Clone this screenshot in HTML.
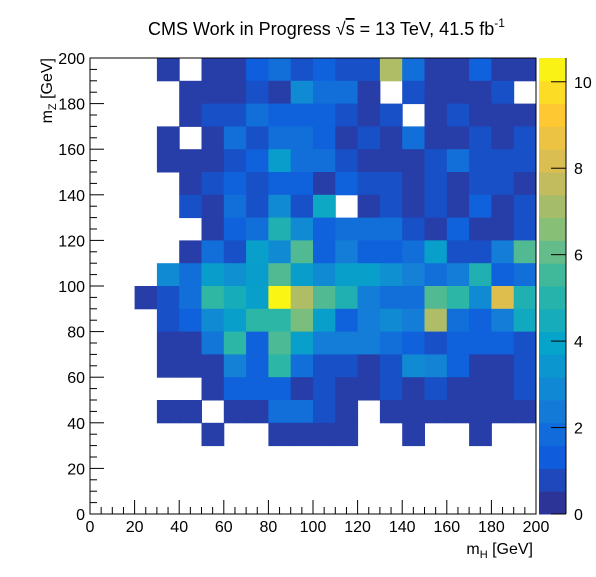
<!DOCTYPE html>
<html><head><meta charset="utf-8"><style>
body{margin:0;background:#fff;width:596px;height:572px;overflow:hidden}
svg text{font-family:"Liberation Sans",sans-serif;fill:#000}
</style></head><body>
<svg id="chart" width="596" height="572" xmlns="http://www.w3.org/2000/svg">
<text x="148" y="35" font-size="18">CMS Work in Progress <tspan font-size="18">√</tspan><tspan text-decoration="overline">s</tspan> = 13 TeV, 41.5 fb<tspan font-size="12" dy="-8">-1</tspan></text>
<g id="cells"></g><g id="cbar"></g><g id="axes"></g>
<text x="533" y="554" font-size="16" text-anchor="end">m<tspan font-size="11" dy="4">H</tspan><tspan dy="-4"> [GeV]</tspan></text>
<text transform="translate(52,58) rotate(-90)" font-size="16" text-anchor="end">m<tspan font-size="11" dy="4">Z</tspan><tspan dy="-4"> [GeV]</tspan></text>
</svg>
<script>
// rows from top (190-200 GeV) down to 0-10; null = empty
const zValuesRows = [
[null,null,null,0.5,null,0.5,0.5,1.4,2.0,1.05, 1.5,1.0,1.0,7.3,2.0,0.5,0.5,1.5,0.5,0.5],
[null,null,null,null,0.5,0.5,0.5,1.0,0.5,3.0, 2.0,2.0,0.5,null,1.0,0.5,0.5,0.5,1.0,null],
[null,null,null,null,0.5,1.0,1.0,2.0,1.5,1.5, 1.5,1.0,0.5,1.0,null,0.5,1.0,0.5,0.5,0.5],
[null,null,null,0.5,null,0.5,2.0,1.0,2.0,2.0, 1.5,0.5,1.0,0.5,2.0,0.5,0.5,1.0,0.5,1.0],
[null,null,null,0.5,0.5,0.5,1.0,1.5,3.7,2.0, 2.0,1.0,0.5,0.5,0.5,1.0,2.0,1.0,1.0,1.0],
[null,null,null,null,0.5,1.0,1.5,1.0,1.5,1.5, 0.5,1.5,1.0,1.0,0.5,1.0,0.5,1.0,1.0,0.5],
[null,null,null,null,1.0,0.5,2.0,1.0,3.0,1.0, 4.2,null,0.5,1.0,0.5,1.0,0.5,1.5,0.5,1.0],
[null,null,null,null,null,0.5,1.5,2.0,4.8,3.0, 1.5,2.0,2.0,2.0,1.0,0.5,1.5,0.5,0.5,1.0],
[null,null,null,null,0.5,2.0,1.0,3.8,3.0,5.8, 1.5,2.5,1.5,1.5,2.0,3.8,1.0,1.0,2.5,5.8],
[null,null,null,3.0,2.0,3.7,3.2,3.7,5.8,3.7, 3.0,3.8,3.8,3.2,2.6,2.0,2.5,4.8,1.5,2.0],
[null,null,0.5,1.0,2.0,5.3,4.5,3.8,10.4,7.3, 5.8,4.8,2.5,2.0,2.0,5.8,5.2,3.0,8.3,4.8],
[null,null,null,1.0,1.5,3.0,3.8,5.2,5.2,6.4, 3.8,1.5,2.5,3.0,2.5,7.3,2.0,1.5,2.5,4.3],
[null,null,null,0.5,0.5,2.2,5.2,1.5,5.7,3.8, 2.5,2.5,2.5,2.0,1.5,1.0,1.5,1.5,1.5,1.0],
[null,null,null,0.5,0.5,0.5,2.6,1.5,5.2,2.0, 1.0,1.0,0.5,1.0,3.0,2.7,1.5,0.5,0.5,1.0],
[null,null,null,null,null,0.5,1.5,1.5,1.5,0.5, 1.0,0.5,0.5,1.0,0.5,1.0,0.5,0.5,0.5,1.0],
[null,null,null,0.5,0.5,null,0.5,0.5,2.0,2.0, 1.0,0.5,null,0.5,0.5,0.5,0.5,0.5,0.5,0.5],
[null,null,null,null,null,0.5,null,null,0.5,0.5, 0.5,0.5,null,null,0.5,null,null,0.5,null,null],
[null,null,null,null,null,null,null,null,null,null, null,null,null,null,null,null,null,null,null,null],
[null,null,null,null,null,null,null,null,null,null, null,null,null,null,null,null,null,null,null,null],
[null,null,null,null,null,null,null,null,null,null, null,null,null,null,null,null,null,null,null,null]
];
const xTicks = [0,20,40,60,80,100,120,140,160,180,200];
const yTicks = [0,20,40,60,80,100,120,140,160,180,200];
const zTicks = [0,2,4,6,8,10];
const zMax = 10.55;

const NS="http://www.w3.org/2000/svg";
const L=90,R=536,T=58,B=514;
const xs=v=>L+(v/200)*(R-L), ys=v=>B-(v/200)*(B-T);
const CB0=539,CB1=566, zs=v=>B-(v/zMax)*(B-T);
const stops=[[53,42,135],[15,92,221],[20,129,214],[6,164,202],[46,183,164],[135,191,119],[209,187,89],[254,200,50],[249,251,14]];
function col(v){let t=Math.max(0,Math.min(1,v/zMax))*8;let i=Math.min(7,Math.floor(t)),f=t-i;
 const a=stops[i],b=stops[i+1];return `rgb(${a.map((c,k)=>Math.round(c+(b[k]-c)*f)).join(',')})`;}
function mk(tag,attrs,parent){const e=document.createElementNS(NS,tag);for(const k in attrs)e.setAttribute(k,attrs[k]);parent.appendChild(e);return e;}
const cells=document.getElementById('cells');
zValuesRows.forEach((row,ri)=>{const y0=190-ri*10;row.forEach((v,ci)=>{if(v===null)return;const x0=ci*10;
 const r=mk('rect',{x:xs(x0),y:ys(y0+10),width:xs(x0+10)-xs(x0)+0.5,height:ys(y0)-ys(y0+10)+0.5,fill:col(v)},cells);
 
 });});
const cb=document.getElementById('cbar');
const nb=20;for(let i=0;i<nb;i++){const v0=zMax*i/nb,v1=zMax*(i+1)/nb;
 const r=mk('rect',{x:CB0,y:zs(v1),width:CB1-CB0,height:zs(v0)-zs(v1)+0.5,fill:col((v0+v1)/2)},cb);
 
 }
mk('line',{x1:CB1,y1:T,x2:CB1,y2:B,stroke:'#000','stroke-width':1},cb);
zTicks.forEach(z=>{mk('line',{x1:CB1-15,x2:CB1,y1:zs(z),y2:zs(z),stroke:'#000'},cb);
 const t=mk('text',{x:CB1+8,y:zs(z)+6,'font-size':16},cb);t.textContent=z;
 
 });
const ax=document.getElementById('axes');
mk('rect',{x:L,y:T,width:R-L,height:B-T,fill:'none',stroke:'#000','stroke-width':1},ax);
for(let v=0;v<=200;v+=5){const maj=v%20===0;
 mk('line',{x1:xs(v),x2:xs(v),y1:B,y2:B-(maj?14:7),stroke:'#000'},ax);
 mk('line',{x1:L,x2:L+(maj?14:7),y1:ys(v),y2:ys(v),stroke:'#000'},ax);}
xTicks.forEach(v=>{const t=mk('text',{x:xs(v),y:B+18,'font-size':16,'text-anchor':'middle'},ax);t.textContent=v;
 
 });
yTicks.forEach(v=>{const t=mk('text',{x:L-5,y:ys(v)+6,'font-size':16,'text-anchor':'end'},ax);t.textContent=v;
 
 });
</script>
</body></html>
